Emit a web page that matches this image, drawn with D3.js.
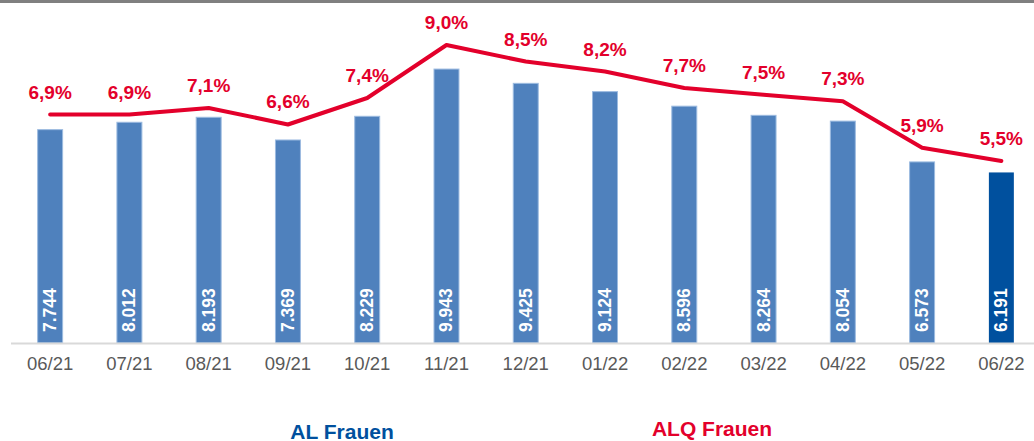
<!DOCTYPE html>
<html>
<head>
<meta charset="utf-8">
<script src="https://cdn.jsdelivr.net/npm/d3@7"></script>
<style>
  body { margin: 0; background: #fff; }
  svg { display: block; font-family: "Liberation Sans", Arial, sans-serif; }
</style>
</head>
<body>
<div id="chart"></div>
<script>
// Monthly values
const months = ["06/21", "07/21", "08/21", "09/21", "10/21", "11/21", "12/21",
                "01/22", "02/22", "03/22", "04/22", "05/22", "06/22"];
const alFrauen = [7744, 8012, 8193, 7369, 8229, 9943, 9425, 9124, 8596, 8264, 8054, 6573, 6191];
const alqFrauen = [6.9, 6.9, 7.1, 6.6, 7.4, 9.0, 8.5, 8.2, 7.7, 7.5, 7.3, 5.9, 5.5];
const legendLabels = ["AL Frauen", "ALQ Frauen"];

const W = 1034, H = 441;
const baseY = 343;
const blue = "#4f81bd", darkBlue = "#00509e", red = "#e3002b";

const svg = d3.select("#chart")
  .append("svg")
  .attr("width", W)
  .attr("height", H);

// top gray strip
svg.append("rect")
  .attr("x", 0).attr("y", 0)
  .attr("width", W).attr("height", 3)
  .attr("fill", "#808080");

const x = d3.scaleBand()
  .domain(months)
  .range([10.5, 1041])
  .paddingInner(0.685)
  .paddingOuter(0.3425);

const y = d3.scaleLinear()
  .domain([0, 12450])
  .range([baseY, 0]);

const yRate = d3.scaleLinear()
  .domain([0, 10.36])
  .range([baseY, 0]);

const data = months.map((m, i) => ({ month: m, al: alFrauen[i], alq: alqFrauen[i] }));
const fmtInt = d => d3.format(",")(d).replace(/,/g, ".");
const fmtPct = d => d3.format(".1f")(d).replace(".", ",") + "%";

// Bars
svg.selectAll(".bar")
  .data(data)
  .enter()
  .append("rect")
  .attr("class", "bar")
  .attr("x", d => x(d.month))
  .attr("y", d => y(d.al))
  .attr("width", x.bandwidth())
  .attr("height", d => baseY - y(d.al))
  .attr("fill", (d, i) => i === data.length - 1 ? darkBlue : blue)
  .attr("stroke", (d, i) => i === data.length - 1 ? "none" : "#9cbbe0")
  .attr("stroke-width", 1);

// Bar value labels (rotated)
svg.selectAll(".bar-label")
  .data(data)
  .enter()
  .append("text")
  .attr("class", "bar-label")
  .attr("transform", d => `translate(${x(d.month) + x.bandwidth() / 2 + 6},${baseY - 11}) rotate(-90)`)
  .attr("fill", "#fff")
  .attr("font-size", "17.5px")
  .attr("font-weight", "bold")
  .text(d => fmtInt(d.al));

// X axis
const xAxis = svg.append("g")
  .attr("transform", `translate(0,${baseY})`)
  .call(d3.axisBottom(x).tickSize(0).tickPadding(14));
xAxis.select(".domain").remove();
xAxis.selectAll("text")
  .attr("fill", "#595959")
  .attr("font-size", "18.5px")
  .attr("font-family", "Liberation Sans, Arial, sans-serif");

svg.append("line")
  .attr("x1", 11).attr("x2", W)
  .attr("y1", baseY + 0.5).attr("y2", baseY + 0.5)
  .attr("stroke", "#d9d9d9")
  .attr("stroke-width", 2);

// Rate line
const line = d3.line()
  .x(d => x(d.month) + x.bandwidth() / 2)
  .y(d => yRate(d.alq));

svg.append("path")
  .datum(data)
  .attr("fill", "none")
  .attr("stroke", red)
  .attr("stroke-width", 4)
  .attr("stroke-linecap", "round")
  .attr("stroke-linejoin", "round")
  .attr("d", line);

svg.selectAll(".rate-label")
  .data(data)
  .enter()
  .append("text")
  .attr("class", "rate-label")
  .attr("x", d => x(d.month) + x.bandwidth() / 2)
  .attr("y", d => yRate(d.alq) - 16)
  .attr("text-anchor", "middle")
  .attr("fill", red)
  .attr("font-size", "19px")
  .attr("font-weight", "bold")
  .text(d => fmtPct(d.alq));

// Legend
svg.append("text")
  .attr("x", 342).attr("y", 439)
  .attr("text-anchor", "middle")
  .attr("fill", darkBlue)
  .attr("font-size", "21px")
  .attr("font-weight", "bold")
  .text(legendLabels[0]);

svg.append("text")
  .attr("x", 712).attr("y", 436)
  .attr("text-anchor", "middle")
  .attr("fill", red)
  .attr("font-size", "21px")
  .attr("font-weight", "bold")
  .text(legendLabels[1]);
</script>
</body>
</html>
